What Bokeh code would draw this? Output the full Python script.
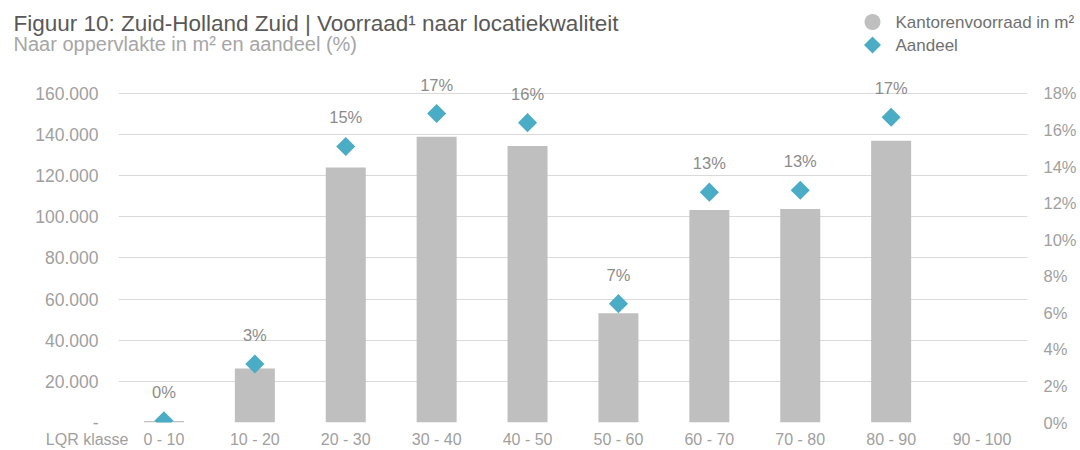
import math
from bokeh.plotting import figure
from bokeh.layouts import column
from bokeh.models import (ColumnDataSource, Range1d, LinearAxis, FixedTicker, Label, FactorRange)
from bokeh.core.properties import value
from bokeh.embed import file_html
from bokeh.resources import INLINE

# ---- data ----
categories = ["0 - 10", "10 - 20", "20 - 30", "30 - 40", "40 - 50",
              "50 - 60", "60 - 70", "70 - 80", "80 - 90", "90 - 100"]
voorraad_m2 = [700, 26200, 124000, 138900, 134400, 53100, 103300, 103800, 137000, 0]
aandeel_pct = [0.1, 3.2, 15.1, 16.9, 16.4, 6.5, 12.6, 12.7, 16.7, None]
left_ticks = [0, 20000, 40000, 60000, 80000, 100000, 120000, 140000, 160000]
right_ticks = [0, 2, 4, 6, 8, 10, 12, 14, 16, 18]

title_text = "Figuur 10: Zuid-Holland Zuid | Voorraad\u00b9 naar locatiekwaliteit"
subtitle_text = "Naar oppervlakte in m\u00b2 en aandeel (%)"
legend_labels = ["Kantorenvoorraad in m\u00b2", "Aandeel"]
xlabel_text = "LQR klasse"

FONT = "Liberation Sans"
BAR = "#bfbfbf"
BLUE = "#4bacc6"
TICK = "#a0a0a0"

LEFT_TOP = 160000 * 1.1
RIGHT_TOP = 18 * 1.1

# ---------- header strip (title + legend), pixel coordinates ----------
HEAD_H = 60
head = figure(width=1080, height=HEAD_H, x_range=Range1d(0, 1080), y_range=Range1d(HEAD_H, 0),
              output_backend="svg", toolbar_location=None,
              x_axis_location=None, y_axis_location=None, frame_align=False,
              min_border=0, min_border_left=0, min_border_right=0,
              min_border_top=0, min_border_bottom=0)
head.grid.visible = False
head.outline_line_color = None
head.border_fill_color = "white"
head.background_fill_color = "white"

head.text(x=[13], y=[22.5], text=[title_text], text_font=value(FONT), text_font_size="22.5px",
          text_color="#595959", text_align="left", text_baseline="middle")
head.text(x=[13], y=[43], text=[subtitle_text], text_font=value(FONT), text_font_size="20px",
          text_color="#a6a6a6", text_align="left", text_baseline="middle")
head.scatter(x=[872], y=[21.5], marker="circle", size=16, fill_color=BAR, line_color=None)
head.scatter(x=[872], y=[44.5], marker="square", angle=math.pi / 4, size=12,
             fill_color=BLUE, line_color=None)
head.text(x=[895, 895], y=[21.5, 44.5], text=legend_labels, text_font=value(FONT),
          text_font_size="17px", text_color="#707070", text_align="left", text_baseline="middle")

# ---------- main chart ----------
p = figure(width=1080, height=450 - HEAD_H, x_range=FactorRange(*categories),
           y_range=Range1d(0, LEFT_TOP), output_backend="svg", toolbar_location=None,
           frame_align=False,
           min_border_left=118, min_border_right=53, min_border_top=0, min_border_bottom=28)
p.outline_line_color = None
p.background_fill_color = "white"
p.border_fill_color = "white"
p.extra_y_ranges = {"pct": Range1d(0, RIGHT_TOP)}

bar_src = ColumnDataSource(dict(x=categories, top=voorraad_m2))
p.vbar(x="x", top="top", width=0.44, source=bar_src, fill_color=BAR, line_color=None)

dx = [c for c, v in zip(categories, aandeel_pct) if v is not None]
dy = [v for v in aandeel_pct if v is not None]
dl = ["%d%%" % int(math.floor(v + 0.5)) for v in dy]
pct_src = ColumnDataSource(dict(x=dx, y=dy, lab=dl))
p.scatter(x="x", y="y", source=pct_src, marker="square", angle=math.pi / 4, size=13.5,
          fill_color=BLUE, line_color=None, y_range_name="pct")
p.text(x="x", y="y", text="lab", source=pct_src, y_range_name="pct", y_offset=-29,
       text_align="center", text_baseline="middle", text_font=value(FONT),
       text_font_size="16.5px", text_color="#8c8c8c")

def style_axis(ax, standoff, size):
    ax.axis_line_color = None
    ax.major_tick_line_color = None
    ax.minor_tick_line_color = None
    ax.major_tick_out = 0
    ax.major_tick_in = 0
    ax.minor_tick_out = 0
    ax.major_label_standoff = standoff
    ax.major_label_text_font = FONT
    ax.major_label_text_font_size = size
    ax.major_label_text_color = TICK

p.yaxis.ticker = FixedTicker(ticks=left_ticks)
p.yaxis.major_label_overrides = {t: ("-" if t == 0 else f"{t:,}".replace(",", ".")) for t in left_ticks}
style_axis(p.yaxis[0], 20, "17.5px")

raxis = LinearAxis(y_range_name="pct", ticker=FixedTicker(ticks=right_ticks))
raxis.major_label_overrides = {t: f"{t}%" for t in right_ticks}
style_axis(raxis, 16, "16.5px")
p.add_layout(raxis, "right")

xaxis = p.xaxis[0]
style_axis(xaxis, -9, "16px")

p.xgrid.grid_line_color = None
p.ygrid.ticker = FixedTicker(ticks=left_ticks)
p.ygrid.grid_line_color = "#d9d9d9"
p.ygrid.grid_line_width = 1

# x-axis caption at the left of the category labels (own panel next to the frame)
lqr = Label(x=10, y=9, x_units="screen", y_units="screen", text=xlabel_text,
            text_font=FONT, text_font_size="16px", text_color=TICK,
            text_align="right", text_baseline="top")
p.add_layout(lqr, "below")
p.below = [lqr, xaxis]

layout = column(head, p, spacing=0)
open("out.html", "w").write(file_html(layout, INLINE))
